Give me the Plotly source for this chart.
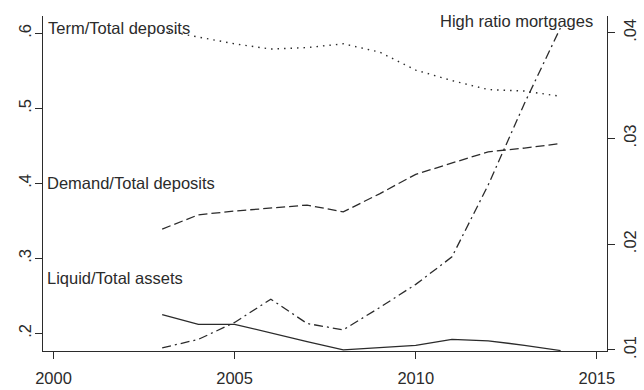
import plotly.graph_objects as go

# Annual bank balance-sheet ratios, 2003-2014
years = [2003, 2004, 2005, 2006, 2007, 2008, 2009, 2010, 2011, 2012, 2013, 2014]
term_ratio = [0.604, 0.595, 0.586, 0.579, 0.581, 0.586, 0.575, 0.551, 0.537, 0.525, 0.523, 0.516]
demand_ratio = [0.339, 0.358, 0.363, 0.367, 0.371, 0.362, 0.386, 0.412, 0.427, 0.442, 0.447, 0.453]
liquid_ratio = [0.225, 0.212, 0.212, 0.200, 0.189, 0.178, 0.181, 0.184, 0.192, 0.190, 0.184, 0.177]
mortgage_ratio = [0.0102, 0.0110, 0.0126, 0.0148, 0.0125, 0.0119, 0.0140, 0.0162, 0.0188, 0.0256, 0.0333, 0.0405]

x_ticks = [2000, 2005, 2010, 2015]
left_ticks = [0.2, 0.3, 0.4, 0.5, 0.6]
left_labels = [".2", ".3", ".4", ".5", ".6"]
right_ticks = [0.01, 0.02, 0.03, 0.04]
right_labels = [".01", ".02", ".03", ".04"]

INK = "#2b2b2b"
FONT = "Liberation Sans, Arial, sans-serif"
FSIZE = 16.5

fig = go.Figure()

fig.add_trace(go.Scatter(x=years, y=term_ratio, mode="lines", yaxis="y",
                         line=dict(color=INK, width=1.4, dash="1.5px,5px")))
fig.add_trace(go.Scatter(x=years, y=demand_ratio, mode="lines", yaxis="y",
                         line=dict(color=INK, width=1.3, dash="9px,4px")))
fig.add_trace(go.Scatter(x=years, y=liquid_ratio, mode="lines", yaxis="y",
                         line=dict(color=INK, width=1.3)))
fig.add_trace(go.Scatter(x=years, y=mortgage_ratio, mode="lines", yaxis="y2",
                         line=dict(color=INK, width=1.3, dash="9px,4px,2px,4px")))

label_font = dict(family=FONT, size=FSIZE, color=INK)
fig.add_annotation(x=1999.8, y=0.6076, xref="x", yref="y", text="Term/Total deposits",
                   showarrow=False, xanchor="left", yanchor="middle", font=label_font)
fig.add_annotation(x=1999.77, y=0.400, xref="x", yref="y", text="Demand/Total deposits",
                   showarrow=False, xanchor="left", yanchor="middle", font=label_font)
fig.add_annotation(x=1999.77, y=0.2737, xref="x", yref="y", text="Liquid/Total assets",
                   showarrow=False, xanchor="left", yanchor="middle", font=label_font)
fig.add_annotation(x=2014.94, y=0.0411, xref="x", yref="y2", text="High ratio mortgages",
                   showarrow=False, xanchor="right", yanchor="middle", font=label_font)

axis_common = dict(showline=True, linecolor=INK, linewidth=1.3, ticks="outside",
                   ticklen=7, tickwidth=1.3, tickcolor=INK, showgrid=False,
                   zeroline=False, automargin=False,
                   tickfont=dict(family=FONT, size=FSIZE, color=INK))

fig.update_layout(
    width=644, height=390,
    margin=dict(l=43, r=37, t=16, b=39),
    paper_bgcolor="white", plot_bgcolor="white",
    showlegend=False,
    xaxis=dict(range=[1999.71, 2015.28], tickvals=x_ticks, ticklabelstandoff=5,
               **axis_common),
    yaxis=dict(range=[0.1764, 0.6231], tickvals=left_ticks, ticktext=left_labels,
               tickangle=-90, ticklabelstandoff=-3, **axis_common),
    yaxis2=dict(range=[0.0099, 0.04158], tickvals=right_ticks, ticktext=right_labels,
                overlaying="y", side="right", tickangle=-90, ticklabelstandoff=1,
                **axis_common),
)

fig.write_html("out.html")
